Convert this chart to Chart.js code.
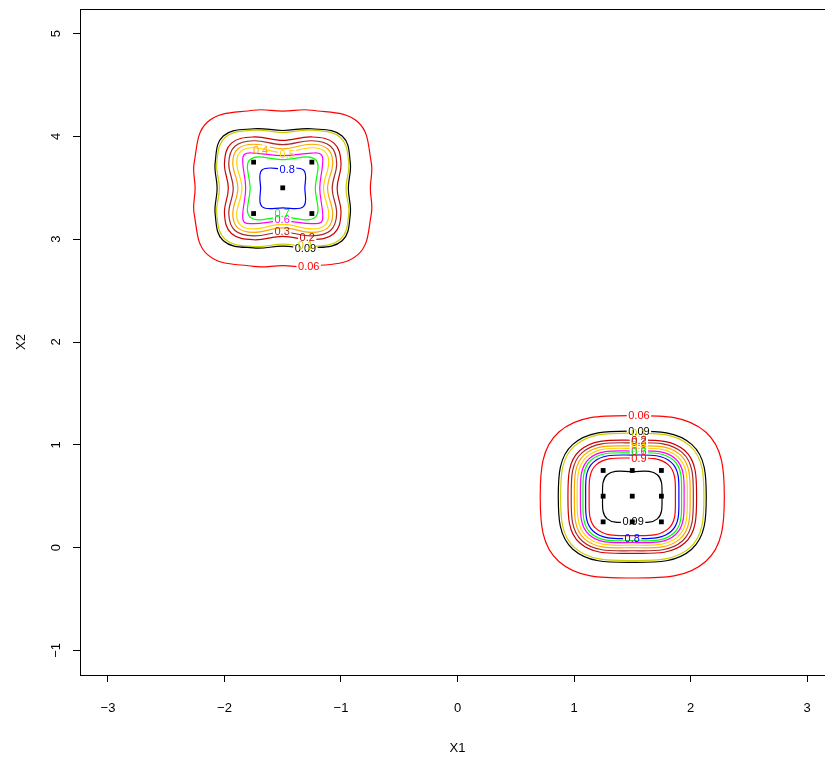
<!DOCTYPE html>
<html>
<head>
<meta charset="utf-8">
<script src="https://cdn.jsdelivr.net/npm/chart.js@4.4.1/dist/chart.umd.min.js"></script>
<style>
  html, body { margin: 0; padding: 0; background: #fff; overflow: hidden; }
  #wrap { width: 845px; height: 759px; }
</style>
</head>
<body>
<div id="wrap"><canvas id="c" width="845" height="759"></canvas></div>
<script>
// ---------- data ----------
const xTicks = [-3, -2, -1, 0, 1, 2, 3];
const xTickLabels = ['\u22123', '\u22122', '\u22121', '0', '1', '2', '3'];
const yTicks = [-1, 0, 1, 2, 3, 4, 5];
const yTickLabels = ['\u22121', '0', '1', '2', '3', '4', '5'];

// observed points
const leftPtsX = [-1.75, -1.25, -1.5, -1.75, -1.25];
const leftPtsY = [3.75, 3.75, 3.5, 3.25, 3.25];
const rightPtsX = [1.25, 1.5, 1.75, 1.25, 1.5, 1.75, 1.25, 1.5, 1.75];
const rightPtsY = [0.75, 0.75, 0.75, 0.5, 0.5, 0.5, 0.25, 0.25, 0.25];

// contour levels and their colours
const levels = ['0.06', '0.09', '0.1', '0.2', '0.3', '0.4', '0.5', '0.6', '0.7', '0.8', '0.9', '0.99'];
const levelColors = ['#FF0000', '#000000', '#CDCD00', '#CD0000', '#A52A2A', '#FFA500',
                     '#FFD700', '#FF00FF', '#00FF00', '#0000FF', '#FF0000', '#000000'];

// right cluster: contour centre, half extents along x / y, extent along the diagonal
const rightCentre = [1.5, 0.494];
const rightHalfX = [0.79, 0.635, 0.615, 0.552, 0.524, 0.497, 0.473, 0.445, 0.423, 0.400, 0.370, 0.255];
const rightHalfY = [0.79, 0.638, 0.620, 0.550, 0.525, 0.495, 0.471, 0.445, 0.427, 0.406, 0.377, 0.245];
const rightDiag  = [0.63, 0.510, 0.495, 0.450, 0.430, 0.410, 0.390, 0.370, 0.355, 0.335, 0.310, 0.215];
// label anchors (data units)
const rightLabelX = [1.557, 1.557, 1.557, 1.557, 1.557, 1.557, 1.557, 1.557, 1.557, 1.50, 1.557, 1.507];
const rightLabelY = [1.284, 1.132, 1.114, 1.044, 1.019, 0.989, 0.965, 0.939, 0.921, 0.088, 0.871, 0.249];

// left cluster (levels 0.06 .. 0.8): extent on the axes, extent at +-0.25 beside the axes, diagonal extent
const leftCentre = [-1.5, 3.495];
const leftAxis = [0.752, 0.563, 0.543, 0.467, 0.425, 0.385, 0.350, 0.318, 0.280, 0.190];
const leftSide = [0.760, 0.580, 0.566, 0.500, 0.463, 0.429, 0.395, 0.343, null, null];
const leftDiag = [0.645, 0.510, 0.495, 0.440, 0.410, 0.385, 0.360, 0.330, 0.280, 0.178];
const leftLabelX = [-1.277, -1.305, -1.305, -1.29, -1.505, -1.69, -1.462, -1.505, -1.505, -1.462];
const leftLabelY = [2.739, 2.911, 2.943, 3.021, 3.073, 3.866, 3.827, 3.194, 3.249, 3.674];

// ---------- build closed contour outlines from the read extents ----------
function ring8(c, rx, ry, d) {
  return [
    {x: c[0] + rx, y: c[1]}, {x: c[0] + d, y: c[1] + d}, {x: c[0], y: c[1] + ry}, {x: c[0] - d, y: c[1] + d},
    {x: c[0] - rx, y: c[1]}, {x: c[0] - d, y: c[1] - d}, {x: c[0], y: c[1] - ry}, {x: c[0] + d, y: c[1] - d}
  ];
}
function ring16(c, r0, r1, off, d) {
  const q = [[r0, 0], [r1, off], [d, d], [off, r1], [0, r0], [-off, r1], [-d, d], [-r1, off],
             [-r0, 0], [-r1, -off], [-d, -d], [-off, -r1], [0, -r0], [off, -r1], [d, -d], [r1, -off]];
  return q.map(p => ({x: c[0] + p[0], y: c[1] + p[1]}));
}

const datasets = [];
for (let i = 0; i < rightHalfX.length; i++) {
  datasets.push({
    data: ring8(rightCentre, rightHalfX[i], rightHalfY[i], rightDiag[i]),
    borderColor: levelColors[i], borderWidth: 1.2, showLine: true, pointRadius: 0, tension: 0.4,
    closedContour: true, labelText: levels[i],
    labelAt: [rightLabelX[i], rightLabelY[i]]
  });
}
for (let i = 0; i < leftAxis.length; i++) {
  const pts = leftSide[i] === null ? ring8(leftCentre, leftAxis[i], leftAxis[i], leftDiag[i])
                                   : ring16(leftCentre, leftAxis[i], leftSide[i], 0.25, leftDiag[i]);
  datasets.push({
    data: pts,
    borderColor: levelColors[i], borderWidth: 1.2, showLine: true, pointRadius: 0, tension: 0.4,
    closedContour: true, labelText: levels[i],
    labelAt: [leftLabelX[i], leftLabelY[i]]
  });
}
datasets.push({
  data: leftPtsX.map((x, i) => ({x, y: leftPtsY[i]})).concat(rightPtsX.map((x, i) => ({x, y: rightPtsY[i]}))),
  showLine: false, pointStyle: 'rect', pointRadius: 3.4, pointBackgroundColor: '#000', pointBorderWidth: 0,
  borderColor: '#000'
});

const LABEL_FONT = '11px "Liberation Sans", Arial, sans-serif';

const contourPlugin = {
  id: 'contourPlugin',
  afterDatasetsUpdate(chart) {
    chart.data.datasets.forEach((ds, i) => {
      if (!ds.closedContour) return;
      const el = chart.getDatasetMeta(i).dataset;
      el._loop = true; el._fullLoop = true; el._pointsUpdated = false;
      delete el._segments; el._path = undefined;
    });
  },
  beforeDatasetDraw(chart, args) {
    const ds = chart.data.datasets[args.index];
    const ctx = chart.ctx;
    ctx.save();
    if (!ds.closedContour || !ds.labelAt) return;
    ctx.font = LABEL_FONT;
    const w = ctx.measureText(ds.labelText).width;
    const px = chart.scales.x.getPixelForValue(ds.labelAt[0]);
    const py = chart.scales.y.getPixelForValue(ds.labelAt[1]);
    ctx.beginPath();
    ctx.rect(0, 0, chart.width, chart.height);
    ctx.rect(px - w / 2 - 1.5, py - 5, w + 3, 10);
    ctx.clip('evenodd');
  },
  afterDatasetDraw(chart) { chart.ctx.restore(); },
  afterDatasetsDraw(chart) {
    const ctx = chart.ctx;
    const a = chart.chartArea;
    ctx.save();
    ctx.font = LABEL_FONT;
    ctx.textAlign = 'center';
    ctx.textBaseline = 'middle';
    chart.data.datasets.forEach(ds => {
      if (!ds.closedContour || !ds.labelAt) return;
      ctx.fillStyle = ds.borderColor;
      ctx.fillText(ds.labelText,
        chart.scales.x.getPixelForValue(ds.labelAt[0]),
        chart.scales.y.getPixelForValue(ds.labelAt[1]) + 0.5);
    });
    // box around the plot region
    ctx.strokeStyle = '#000';
    ctx.lineWidth = 1;
    ctx.strokeRect(Math.round(a.left) + 0.5, Math.round(a.top) + 0.5,
                   Math.round(a.right - a.left), Math.round(a.bottom - a.top));
    ctx.restore();
  }
};

new Chart(document.getElementById('c'), {
  type: 'scatter',
  data: { datasets },
  options: {
    responsive: false,
    animation: false,
    events: [],
    layout: { padding: { top: 9, right: 10, left: 0, bottom: 0 } },
    plugins: { legend: { display: false }, tooltip: { enabled: false } },
    scales: {
      x: {
        type: 'linear', min: -3.24, max: 3.24,
        afterBuildTicks: s => { s.ticks = xTicks.map(v => ({value: v})); },
        afterFit: s => { s.height = 84; s.paddingLeft = 0; s.paddingRight = 0; },
        grid: { drawOnChartArea: false, drawTicks: true, tickLength: 7, color: '#000', lineWidth: 1 },
        border: { display: true, color: '#000', width: 1 },
        ticks: {
          padding: 19, color: '#000',
          font: { family: '"Liberation Sans", Arial, sans-serif', size: 13 },
          callback: (v, i) => xTickLabels[i]
        },
        title: { display: true, text: 'X1', color: '#000', padding: { top: 0, bottom: 3 },
                 font: { family: '"Liberation Sans", Arial, sans-serif', size: 13 } }
      },
      y: {
        type: 'linear', min: -1.24, max: 5.24,
        afterBuildTicks: s => { s.ticks = yTicks.map(v => ({value: v})); },
        afterFit: s => { s.width = 80; s.paddingTop = 0; s.paddingBottom = 0; },
        grid: { drawOnChartArea: false, drawTicks: true, tickLength: 7, color: '#000', lineWidth: 1 },
        border: { display: true, color: '#000', width: 1 },
        ticks: {
          padding: 9, color: '#000', minRotation: 90, maxRotation: 90, crossAlign: 'center',
          font: { family: '"Liberation Sans", Arial, sans-serif', size: 13 },
          callback: (v, i) => yTickLabels[i]
        },
        title: { display: true, text: 'X2', color: '#000', padding: { top: 14, bottom: 0 },
                 font: { family: '"Liberation Sans", Arial, sans-serif', size: 13 } }
      }
    }
  },
  plugins: [contourPlugin]
});
</script>
</body>
</html>
